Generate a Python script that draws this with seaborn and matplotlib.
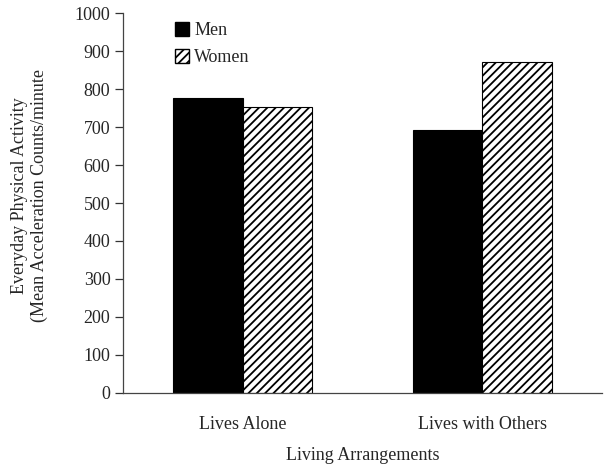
import matplotlib
matplotlib.use("Agg")
import matplotlib.pyplot as plt
import seaborn as sns
import pandas as pd
from matplotlib.patches import Patch

sns.set_style("white")
plt.rcParams['font.family'] = ['Liberation Serif', 'DejaVu Serif']
plt.rcParams['hatch.linewidth'] = 1.3

arrangements = ["Lives Alone", "Lives with Others"]
sexes = ["Men", "Women"]
men_values = [776, 693]
women_values = [752, 871]

df = pd.DataFrame({
    "arrangement": arrangements * 2,
    "sex": ["Men"] * 2 + ["Women"] * 2,
    "activity": men_values + women_values,
})

fig = plt.figure(figsize=(6.09, 4.70), dpi=100)
ax = fig.add_axes([123 / 609, 1 - 392.7 / 470, (602 - 123) / 609, (392.7 - 13.3) / 470])

sns.barplot(data=df, x="arrangement", y="activity", hue="sex", order=arrangements,
            hue_order=sexes, palette=["black", "white"], width=0.58,
            edgecolor="black", linewidth=0.8, saturation=1, ax=ax, legend=False)

# women bars get the diagonal hatch
for bar in ax.containers[1]:
    bar.set_hatch("////")

fs = 13
ax.set_xlim(-0.5, 1.5)
ax.set_ylim(0, 1000)
ax.set_yticks(range(0, 1001, 100))
ax.tick_params(axis="y", left=True, length=6, width=0.9, color="#333333",
               labelsize=fs, pad=3)
ax.tick_params(axis="x", bottom=False, labelsize=fs, pad=13)

for side in ["top", "right"]:
    ax.spines[side].set_visible(False)
for side in ["left", "bottom"]:
    ax.spines[side].set_color("#444444")
    ax.spines[side].set_linewidth(0.9)

ax.set_xlabel("Living Arrangements", fontsize=fs, labelpad=10)
ax.set_ylabel("Everyday Physical Activity\n(Mean Acceleration Counts/minute",
              fontsize=fs, labelpad=19, linespacing=1.25)
ax.yaxis.label.set_y(0.52)

handles = [Patch(facecolor="black", edgecolor="black"),
           Patch(facecolor="white", edgecolor="black", hatch="////")]
ax.legend(handles, sexes, loc="upper left", bbox_to_anchor=(0.09, 1.0),
          frameon=False, fontsize=fs, handlelength=0.75, handleheight=0.75,
          handletextpad=0.3, labelspacing=0.55, borderaxespad=0.1)

fig.savefig("out.png", dpi=100)
